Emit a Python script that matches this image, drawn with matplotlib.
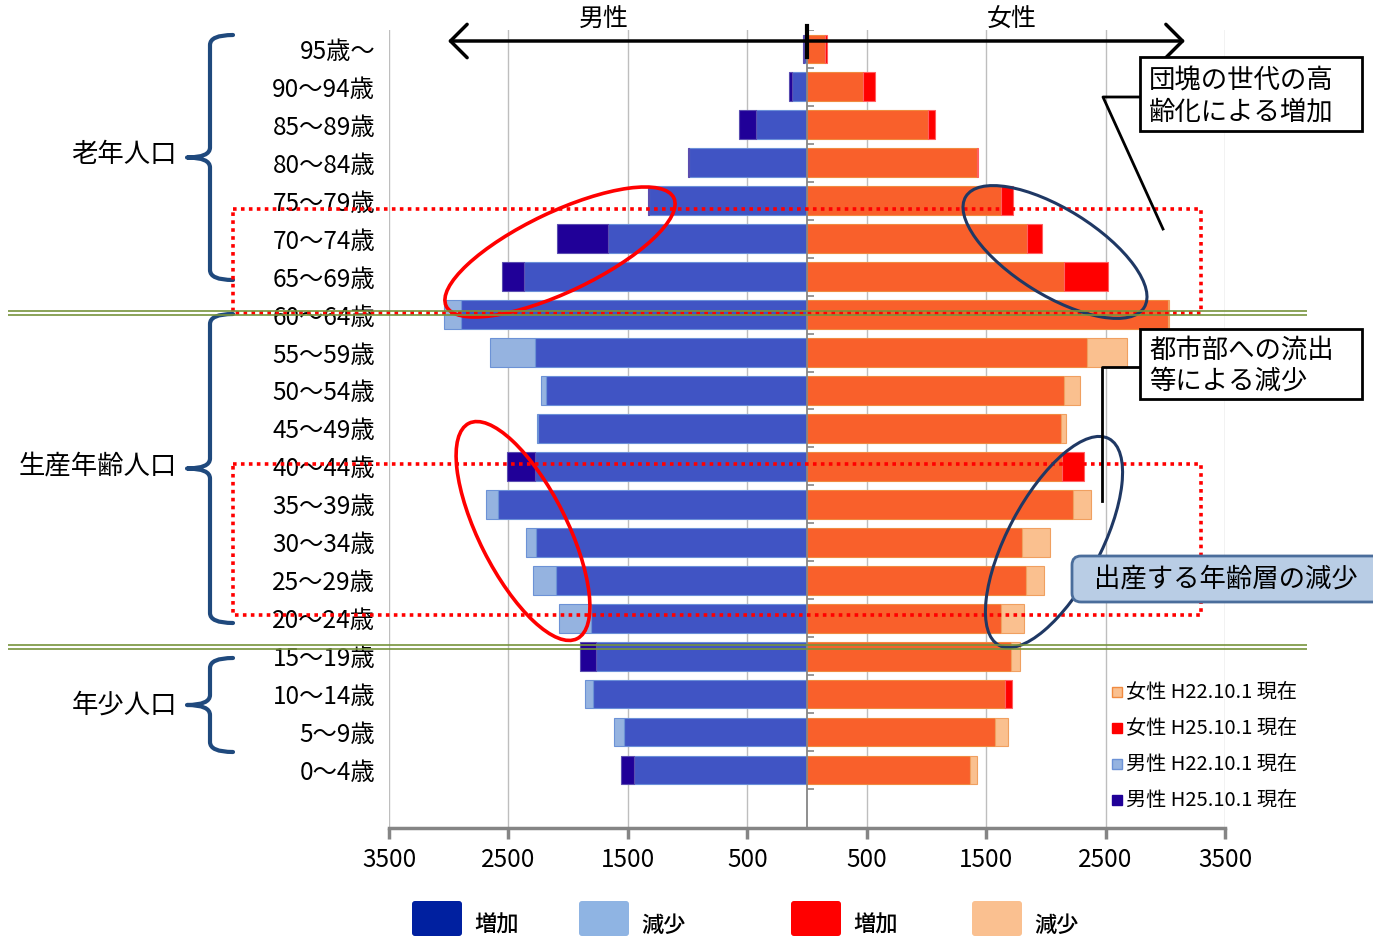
import numpy as np
import matplotlib.pyplot as plt
from matplotlib.patches import Ellipse, Rectangle, FancyBboxPatch, PathPatch
from matplotlib.path import Path

plt.rcParams['font.family'] = ['Noto Sans CJK JP', 'DejaVu Sans']

# age groups, bottom to top
ages = ['0～4歳', '5～9歳', '10～14歳', '15～19歳', '20～24歳', '25～29歳',
        '30～34歳', '35～39歳', '40～44歳', '45～49歳', '50～54歳', '55～59歳',
        '60～64歳', '65～69歳', '70～74歳', '75～79歳', '80～84歳', '85～89歳',
        '90～94歳', '95歳～']

male_h22 = [1452, 1620, 1862, 1764, 2079, 2297, 2352, 2690, 2274, 2258,
            2224, 2656, 3041, 2366, 1670, 1325, 990, 426, 125, 28]
male_h25 = [1558, 1530, 1792, 1904, 1809, 2104, 2272, 2586, 2511, 2255,
            2182, 2280, 2899, 2556, 2090, 1330, 995, 566, 150, 32]
female_h22 = [1425, 1684, 1661, 1784, 1814, 1982, 2032, 2378, 2138, 2169,
              2286, 2676, 3030, 2155, 1845, 1622, 1425, 1009, 466, 148]
female_h25 = [1369, 1578, 1714, 1712, 1622, 1837, 1801, 2224, 2322, 2130,
              2152, 2341, 3024, 2523, 1971, 1722, 1428, 1068, 569, 165]

xticks = [-3500, -2500, -1500, -500, 500, 1500, 2500, 3500]

c_male = '#4054C4'
c_male_up = '#200098'
c_male_down = '#95B3E0'
c_fem = '#F9602B'
c_fem_up = '#FF0000'
c_fem_down = '#FAC08F'

W, H = 1373, 938
fig = plt.figure(figsize=(W / 100, H / 100), dpi=100)
ax = fig.add_axes([389 / W, 1 - 828 / H, 836 / W, 798 / H])

y = np.arange(len(ages))
m22, m25 = np.array(male_h22), np.array(male_h25)
f22, f25 = np.array(female_h22), np.array(female_h25)
m_base = np.minimum(m22, m25)
m_diff = m25 - m22
f_base = np.minimum(f22, f25)
f_diff = f25 - f22
bh = 0.76

ax.barh(y, -m_base, height=bh, color=c_male, edgecolor='#6B8FD8', lw=0.8, zorder=3)
ax.barh(y, -np.abs(m_diff), left=-m_base, height=bh,
        color=np.where(m_diff > 0, c_male_up, c_male_down),
        edgecolor=np.where(m_diff > 0, '#5A4DB0', '#6C92D6'), lw=0.8, zorder=3)
ax.barh(y, f_base, height=bh, color=c_fem, edgecolor='#F08A40', lw=0.8, zorder=3)
ax.barh(y, np.abs(f_diff), left=f_base, height=bh,
        color=np.where(f_diff > 0, c_fem_up, c_fem_down),
        edgecolor=np.where(f_diff > 0, '#FF6060', '#F0A060'), lw=0.8, zorder=3)

ax.set_xlim(-3500, 3500)
ax.set_ylim(-1.53, 19.5)
ax.set_xticks(xticks, labels=[str(abs(t)) for t in xticks], fontsize=17.5)
ax.set_yticks(y, labels=ages, fontsize=17.5)
ax.tick_params(axis='y', length=0, pad=10)
ax.tick_params(axis='x', direction='out', length=8, width=2.5, color='#858585', pad=6)
for s in ['left', 'top', 'right']:
    ax.spines[s].set_visible(False)
ax.spines['bottom'].set_color('#858585')
ax.spines['bottom'].set_linewidth(2.5)
ax.grid(axis='x', color='#BEBEBE', lw=1)
ax.set_axisbelow(True)
ax.axvline(0, color='#868686', lw=1.3, zorder=4)
ax.hlines(np.arange(-0.5, len(ages)), 0, 60, color='#868686', lw=1.2, zorder=4)

# overlay in pixel coordinates for annotations
ov = fig.add_axes([0, 0, 1, 1], zorder=5)
ov.set_xlim(0, W)
ov.set_ylim(H, 0)
ov.axis('off')


def brace(x_end, x_mid, x_tip, y_top, y_bot, color='#1F497D'):
    y_mid = (y_top + y_bot) / 2
    r = 10
    verts = [(x_end, y_top), (x_mid, y_top), (x_mid, y_top + r),
             (x_mid, y_mid - r), (x_mid, y_mid), (x_tip, y_mid),
             (x_mid, y_mid), (x_mid, y_mid + r),
             (x_mid, y_bot - r), (x_mid, y_bot), (x_end, y_bot)]
    codes = [Path.MOVETO, Path.CURVE3, Path.CURVE3,
             Path.LINETO, Path.CURVE3, Path.CURVE3,
             Path.CURVE3, Path.CURVE3,
             Path.LINETO, Path.CURVE3, Path.CURVE3]
    ov.add_patch(PathPatch(Path(verts, codes), fill=False, edgecolor=color,
                           lw=3, capstyle='round', joinstyle='round'))


brace(233, 210, 187, 35, 280)
brace(233, 210, 187, 314, 623)
brace(233, 210, 187, 658, 752)
ov.text(177, 155, '老年人口', ha='right', va='center', fontsize=19)
ov.text(177, 466, '生産年齢人口', ha='right', va='center', fontsize=19)
ov.text(177, 705, '年少人口', ha='right', va='center', fontsize=19)

# green separators
ov.hlines([311, 315], 8, 1307, color='#77933C', lw=1.2)
ov.hlines([645, 649], 8, 1307, color='#77933C', lw=1.2)

# red dotted frames
for top, bot in [(209, 313), (464, 615)]:
    ov.add_patch(Rectangle((233, top), 1201 - 233, bot - top, fill=False,
                           edgecolor='#FF0000', lw=2.6, linestyle=(0, (1, 1.2))))

# ellipses
ov.add_patch(Ellipse((560, 252), 252, 80, angle=-25.4, fill=False,
                     edgecolor='#FF0000', lw=2.6))
ov.add_patch(Ellipse((523, 531), 241, 88, angle=63.3, fill=False,
                     edgecolor='#FF0000', lw=2.6))
ov.add_patch(Ellipse((1055, 252), 210, 86, angle=31.9, fill=False,
                     edgecolor='#1F3864', lw=2.2))
ov.add_patch(Ellipse((1054, 542), 234, 93, angle=-62, fill=False,
                     edgecolor='#1F3864', lw=2.2))

# top arrow
ov.annotate('', xy=(448, 41), xytext=(1185, 41),
            arrowprops=dict(arrowstyle='<->,head_length=0.6,head_width=0.6',
                            lw=2.5, color='black', mutation_scale=20,
                            shrinkA=0, shrinkB=0))
ov.plot([807, 807], [26, 57], color='black', lw=3)
ov.text(604, 20, '男性', ha='center', va='center', fontsize=18)
ov.text(1012, 20, '女性', ha='center', va='center', fontsize=18)

# callouts
ov.plot([1140, 1103, 1163], [97, 97, 229], color='black', lw=2)
ov.add_patch(Rectangle((1140, 57), 222, 74, facecolor='white',
                       edgecolor='black', lw=2, zorder=6))
ov.text(1149, 81, '団塊の世代の高', va='center', fontsize=19, zorder=7)
ov.text(1149, 112, '齢化による増加', va='center', fontsize=19, zorder=7)

ov.plot([1140, 1102, 1102], [367, 367, 501], color='black', lw=2)
ov.add_patch(Rectangle((1140, 329), 222, 70, facecolor='white',
                       edgecolor='black', lw=2, zorder=6))
ov.text(1149, 350, '都市部への流出', va='center', fontsize=19, zorder=7)
ov.text(1149, 381, '等による減少', va='center', fontsize=19, zorder=7)

ov.add_patch(FancyBboxPatch((1072, 556), 340, 46,
                            boxstyle='round,pad=0,rounding_size=9',
                            facecolor='#B9CDE5', edgecolor='#4A6D9B', lw=2, zorder=6))
ov.text(1094, 580, '出産する年齢層の減少', va='center', fontsize=19, zorder=7)

# right-side legend
leg_items = [('女性 H22.10.1 現在', c_fem_down, '#F08A40'),
             ('女性 H25.10.1 現在', c_fem_up, c_fem_up),
             ('男性 H22.10.1 現在', c_male_down, '#6C92D6'),
             ('男性 H25.10.1 現在', c_male_up, c_male_up)]
for k, (lab, fc, ec) in enumerate(leg_items):
    yy = 692 + 36 * k
    ov.add_patch(Rectangle((1112, yy - 5), 10, 10, facecolor=fc, edgecolor=ec, lw=1))
    ov.text(1126, yy, lab, va='center', fontsize=14.5)

# bottom legend
bottom_items = [(412, '#0020A0', '増加'), (579, '#8FB4E3', '減少'),
                (791, '#FF0000', '増加'), (972, '#FAC090', '減少')]
for x0, fc, lab in bottom_items:
    ov.add_patch(FancyBboxPatch((x0, 901), 50, 35,
                                boxstyle='round,pad=0,rounding_size=3',
                                facecolor=fc, edgecolor='none'))
    ov.text(x0 + 62, 925, lab, va='center', fontsize=16, fontweight='medium')

fig.savefig('out.png', dpi=100)
